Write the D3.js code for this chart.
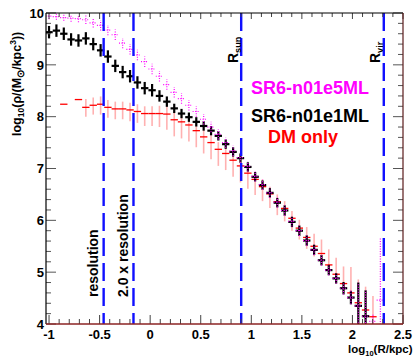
<!DOCTYPE html>
<html><head><meta charset="utf-8">
<script src="https://cdn.jsdelivr.net/npm/d3@7"></script>
<style>
body{margin:0;background:#fff}
svg{display:block}
text{font-family:"Liberation Sans",Arial,Helvetica,sans-serif;font-weight:bold}
</style>
</head><body><svg id="c" width="413" height="357"></svg>
<script>
// ---------- data ----------
const logR = [-1.000,-0.927,-0.854,-0.782,-0.709,-0.636,-0.563,-0.490,-0.418,-0.345,
  -0.272,-0.199,-0.126,-0.054,0.019,0.092,0.165,0.238,0.310,0.383,
  0.456,0.529,0.602,0.674,0.747,0.820,0.893,0.966,1.038,1.111,
  1.184,1.257,1.330,1.402,1.475,1.548,1.621,1.694,1.766,1.839,
  1.912,1.985,2.058,2.130,2.203,2.276];
const binHalf = 0.0364;

// SR6-n01e1ML (black)
const e1Rho = [9.63,9.66,9.60,9.49,9.47,9.51,9.40,9.28,9.16,8.98,
  8.86,8.78,8.66,8.55,8.51,8.40,8.29,8.16,8.06,7.99,
  7.90,7.82,7.73,7.63,7.47,7.32,7.20,7.03,6.84,6.68,
  6.53,6.34,6.19,5.97,5.80,5.61,5.43,5.23,5.04,4.88,
  4.69,4.51,4.35,4.15,null,null];
const e1Lo = [0.12,0.12,0.12,0.12,0.12,0.12,0.12,0.12,0.12,0.12,
  0.12,0.12,0.12,0.12,0.12,0.11,0.1,0.09,0.09,0.09,
  0.09,0.09,0.09,0.09,0.09,0.09,0.09,0.09,0.09,0.09,
  0.09,0.09,0.1,0.1,0.1,0.1,0.1,0.1,0.1,0.1,
  0.12,0.13,1.0,1.0,0,0];
const e1Hi = [0.12,0.12,0.12,0.12,0.12,0.12,0.12,0.12,0.12,0.12,
  0.12,0.12,0.12,0.12,0.12,0.11,0.1,0.09,0.09,0.09,
  0.09,0.09,0.09,0.09,0.09,0.09,0.09,0.09,0.09,0.09,
  0.09,0.09,0.1,0.1,0.1,0.1,0.1,0.1,0.1,0.1,
  0.12,0.13,0.45,0.5,0,0];

// SR6-n01e5ML (magenta, dotted)
const e5Rho = [9.94,9.93,9.91,9.90,9.89,9.87,9.81,9.76,9.67,9.58,
  9.42,9.30,9.19,9.06,8.92,8.78,8.62,8.47,8.35,8.22,
  8.10,7.95,7.80,7.66,7.50,7.34,7.21,7.04,6.85,6.69,
  6.53,6.35,6.19,5.98,5.80,5.61,5.43,5.23,5.04,4.88,
  4.69,4.51,4.35,4.15,4.05,4.46];
const e5Lo = [0.06,0.06,0.06,0.07,0.07,0.08,0.09,0.1,0.1,0.1,
  0.1,0.1,0.1,0.1,0.1,0.1,0.1,0.1,0.1,0.1,
  0.1,0.1,0.1,0.1,0.1,0.1,0.1,0.1,0.1,0.1,
  0.1,0.1,0.1,0.1,0.1,0.1,0.1,0.1,0.1,0.1,
  0.12,0.13,1.0,1.0,1.0,1.0];
const e5Hi = [0.06,0.06,0.06,0.07,0.07,0.08,0.09,0.1,0.1,0.1,
  0.1,0.1,0.1,0.1,0.1,0.1,0.1,0.1,0.1,0.1,
  0.1,0.1,0.1,0.1,0.1,0.1,0.1,0.1,0.1,0.1,
  0.1,0.1,0.1,0.1,0.1,0.1,0.1,0.1,0.1,0.1,
  0.12,0.13,0.45,0.5,0.15,1.2];

// DM only (red)
const dmRho = [null,null,8.24,null,8.33,8.18,8.22,8.24,8.18,8.15,
  8.15,8.13,8.10,8.06,8.06,8.06,8.05,7.94,7.90,7.84,
  7.73,7.61,7.50,7.37,7.29,7.16,7.05,6.91,6.79,6.65,
  6.51,6.36,6.23,6.04,5.85,5.67,5.50,5.36,5.14,4.96,
  4.78,4.60,4.41,4.27,4.14,null];
const dmLo = [0,0,0,0,0,0.18,0.18,0.2,0.2,0.2,
  0.2,0.22,0.22,0.24,0.24,0.26,0.3,0.32,0.32,0.32,
  0.32,0.32,0.32,0.32,0.32,0.32,0.32,0.3,0.3,0.28,
  0.27,0.26,0.25,0.24,0.22,0.22,0.2,0.2,0.18,0.18,
  0.18,0.14,0.14,0.14,0.14,0];
const dmHi = [0,0,0,0,0,0.16,0.15,0.15,0.14,0.14,
  0.14,0.14,0.14,0.14,0.14,0.15,0.18,0.16,0.15,0.14,
  0.14,0.14,0.14,0.14,0.14,0.14,0.14,0.14,0.14,0.14,
  0.14,0.14,0.14,0.14,0.16,0.2,0.24,0.27,0.3,0.32,
  0.33,0.5,0.45,0.45,0.4,0];

const xMajor = [-1,-0.5,0,0.5,1,1.5,2,2.5];
const xLabels = ["-1","-0.5","0","0.5","1","1.5","2","2.5"];
const yMajor = [4,5,6,7,8,9,10];
const yLabels = ["4","5","6","7","8","9","10"];

const markerPos = [-0.46,-0.165,0.90,2.31];
const legendNames = ["SR6-n01e5ML","SR6-n01e1ML","DM only"];
const legendColors = ["#ff00ff","#000000","#ff0000"];

// ---------- layout ----------
const L=46, R=403, T=13, B=324;
const svg = d3.select("#c");
const x = d3.scaleLinear().domain([-1.03,2.5]).range([L,R]);
const y = d3.scaleLinear().domain([4,10]).range([B,T]);

svg.append("defs").append("clipPath").attr("id","pc")
  .append("rect").attr("x",L).attr("y",T).attr("width",R-L).attr("height",B-T);
const plot = svg.append("g").attr("clip-path","url(#pc)");

function crosses(g, vals, lo, hi, hStyle, vStyle){
  logR.forEach((c,i)=>{
    const v = vals[i]; if(v==null) return;
    if(lo[i]>0 || hi[i]>0){
      const vl = g.append("line").attr("x1",x(c)).attr("x2",x(c))
        .attr("y1",y(v-lo[i])).attr("y2",y(v+hi[i]));
      vStyle(vl);
    }
    const h = g.append("line").attr("x1",x(c-binHalf)).attr("x2",x(c+binHalf))
      .attr("y1",y(v)).attr("y2",y(v));
    hStyle(h);
  });
}

// red DM only
const gR = plot.append("g");
crosses(gR, dmRho, dmLo, dmHi,
  s=>s.attr("stroke","#ff0000").attr("stroke-width",1.3),
  s=>s.attr("stroke","rgba(255,70,70,0.42)").attr("stroke-width",1.6));
// black
const gK = plot.append("g");
crosses(gK, e1Rho, e1Lo, e1Hi,
  s=>s.attr("stroke","#000").attr("stroke-width",2.2),
  s=>s.attr("stroke","#000").attr("stroke-width",2.2));
// magenta dotted
const gM = plot.append("g");
crosses(gM, e5Rho, e5Lo, e5Hi,
  s=>s.attr("stroke","#ff00ff").attr("stroke-width",1.2).attr("stroke-dasharray","1,1.5"),
  s=>s.attr("stroke","#ff00ff").attr("stroke-width",1.2).attr("stroke-dasharray","1,1.5"));

// blue dashed markers
plot.selectAll("line.mk").data(markerPos).enter().append("line")
  .attr("x1",d=>x(d)).attr("x2",d=>x(d)).attr("y1",T).attr("y2",B)
  .attr("stroke","#1010ff").attr("stroke-width",2.4).attr("stroke-dasharray","18,7");

// ---------- axes ----------
const ax = svg.append("g");
d3.range(-1,2.5001,0.1).forEach(t=>{
  const tt = Math.round(t*10)/10;
  const major = Math.abs(tt*2 - Math.round(tt*2))<1e-6;
  ax.append("line").attr("x1",x(tt)).attr("x2",x(tt)).attr("y1",B).attr("y2",B-(major?9:5))
    .attr("stroke","#444").attr("stroke-width",1);
  ax.append("line").attr("x1",x(tt)).attr("x2",x(tt)).attr("y1",T).attr("y2",T+(major?6:4))
    .attr("stroke","#444").attr("stroke-width",1);
});
d3.range(4,10.0001,0.2).forEach(t=>{
  const tt = Math.round(t*10)/10;
  const major = Math.abs(tt-Math.round(tt))<1e-6;
  ax.append("line").attr("y1",y(tt)).attr("y2",y(tt)).attr("x1",L).attr("x2",L+(major?10:5))
    .attr("stroke","#555").attr("stroke-width",1);
  ax.append("line").attr("y1",y(tt)).attr("y2",y(tt)).attr("x1",R).attr("x2",R-(major?10:5))
    .attr("stroke","#555").attr("stroke-width",1);
});
// frame
svg.append("line").attr("x1",L).attr("x2",R).attr("y1",T).attr("y2",T).attr("stroke","#000").attr("stroke-width",1.2);
svg.append("line").attr("x1",L).attr("x2",L).attr("y1",T).attr("y2",B).attr("stroke","#000").attr("stroke-width",1.2);
svg.append("line").attr("x1",R).attr("x2",R).attr("y1",T).attr("y2",B).attr("stroke","#5a1a1a").attr("stroke-width",1.2);
svg.append("line").attr("x1",L).attr("x2",R).attr("y1",B).attr("y2",B).attr("stroke","#8b2323").attr("stroke-width",1.5);

// tick labels
svg.selectAll("text.xl").data(xMajor).enter().append("text")
  .attr("x",d=>x(d)).attr("y",339).attr("text-anchor","middle").attr("font-size",13)
  .text((d,i)=>xLabels[i]);
svg.selectAll("text.yl").data(yMajor).enter().append("text")
  .attr("x",44).attr("y",d=>y(d)+4.7).attr("text-anchor","end").attr("font-size",13)
  .text((d,i)=>yLabels[i]);

// axis titles
const yt = svg.append("text").attr("transform","translate(21,136) rotate(-90)").attr("font-size",12.5);
yt.append("tspan").text("log");
yt.append("tspan").attr("dy",3).attr("font-size",8.5).text("10");
yt.append("tspan").attr("dy",-3).text("(ρ/(M");
yt.append("tspan").attr("dy",3).attr("font-size",10).text("⊙");
yt.append("tspan").attr("dy",-3).text("/kpc");
yt.append("tspan").attr("dy",-5).attr("font-size",8.5).text("3");
yt.append("tspan").attr("dy",5).text("))");

const xt = svg.append("text").attr("x",348).attr("y",353).attr("font-size",11.5);
xt.append("tspan").text("log");
xt.append("tspan").attr("dy",3).attr("font-size",7.5).text("10");
xt.append("tspan").attr("dy",-3).text("(R/kpc)");

// marker labels
function rotLabel(px, py, main, sub, fs){
  const t = svg.append("text").attr("transform",`translate(${px},${py}) rotate(-90)`).attr("font-size",fs);
  t.append("tspan").text(main);
  if(sub){ t.append("tspan").attr("dy",3).attr("font-size",fs*0.65).text(sub); }
}
rotLabel(98, 297, "resolution", null, 14);
rotLabel(128, 297, "2.0 x resolution", null, 14);
rotLabel(237.5, 63, "R", "sun", 14);
rotLabel(380, 63, "R", "vir", 14);

// legend texts
const legX = [251,251,268], legY = [94,122,143];
legendNames.forEach((n,i)=>{
  svg.append("text").attr("x",legX[i]).attr("y",legY[i]).attr("font-size",18)
    .attr("fill",legendColors[i]).text(n);
});
</script>
</body></html>
